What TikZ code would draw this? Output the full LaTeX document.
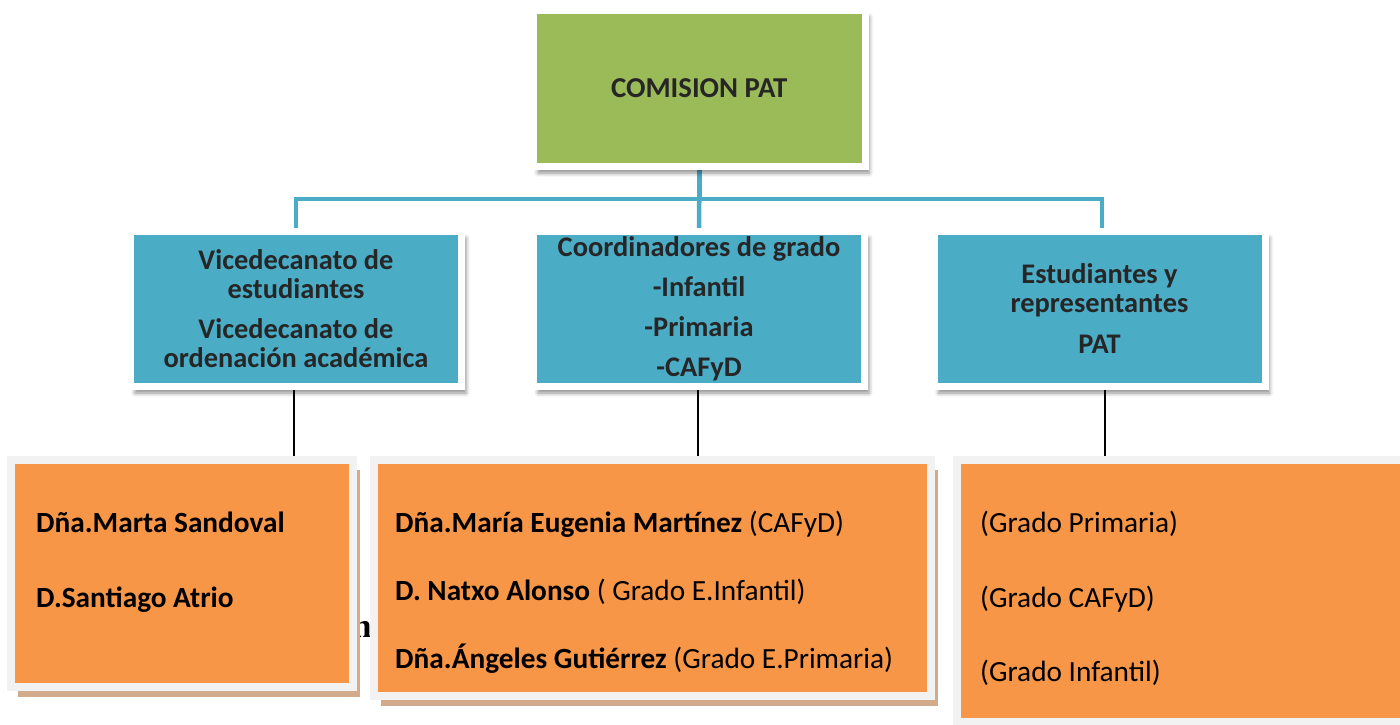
\documentclass[tikz,border=0pt]{standalone}
\usepackage{fontspec}
\setmainfont{Carlito}
\newfontfamily\timesfont{Liberation Serif}
\usetikzlibrary{shadows,shadows.blur,backgrounds}
\definecolor{pgreen}{RGB}{155,187,89}
\definecolor{pblue}{RGB}{75,172,198}
\definecolor{porange}{RGB}{247,150,70}
\definecolor{pframe}{RGB}{242,242,242}
\definecolor{ptan}{RGB}{210,170,140}
\definecolor{ptext}{RGB}{38,38,38}

\begin{document}
\begin{tikzpicture}
[x=1pt, y=-1pt,
 head/.style ={rectangle, draw=white, line width=7pt, fill=pgreen, minimum width=331.5pt, minimum height=156pt, inner sep=0pt, text=ptext, font=\fontsize{28.8}{34}\selectfont\bfseries, blur shadow={shadow xshift=4.5pt, shadow yshift=-6.5pt, shadow blur radius=4pt, shadow opacity=45}},
 unit/.style ={head, fill=pblue, minimum width=331pt, minimum height=155pt, align=center, font=\fontsize{28.4}{29}\selectfont\bfseries},
 panel/.style ={rectangle, draw=pframe, line width=8pt, fill=porange, inner sep=0pt, drop shadow={shadow xshift=7pt, shadow yshift=-10pt, fill=ptan, opacity=1}},
 entry/.style ={anchor=base west, inner sep=0pt, font=\fontsize{29.3}{34}\selectfont},
 link/.style ={draw=pblue, line width=4.5pt},
 line/.style ={draw, line width=1.5pt}]
\useasboundingbox (0, 0) rectangle (1400, 724);
\draw (699.25, 88.5) node[head] (comision) {COMISION PAT};
\draw (296, 309) node[unit] (vice) {Vicedecanato de\\estudiantes\\[11pt]Vicedecanato de\\ordenación académica};
\draw (699, 309) node[unit] (coord) {Coordinadores de grado\\[11pt]-Infantil\\[11pt]-Primaria\\[11pt]-CAFyD};
\draw (1099.5, 309) node[unit] (estud) {Estudiantes y\\representantes\\[12pt]PAT};
\draw (362, 637) node[anchor=base, inner sep=0pt, font=\timesfont\bfseries\fontsize{34}{34}\selectfont] (stray) {n};
\draw (182, 573.25) node[panel, minimum width=342pt, minimum height=226.5pt] (pvice) {};
\draw (652.25, 578) node[panel, minimum width=556.5pt, minimum height=236pt] (pcoord) {};
\draw (1186.5, 591) node[panel, minimum width=460pt, minimum height=262pt] (pestud) {};
\draw (36, 532) node[entry] (m1) {\textbf{Dña.Marta Sandoval}};
\draw (36, 607) node[entry] (m2) {\textbf{D.Santiago Atrio}};
\draw (395, 532) node[entry] (c1) {\textbf{Dña.María Eugenia Martínez} (CAFyD)};
\draw (395, 600) node[entry] (c2) {\textbf{D. Natxo Alonso} ( Grado E.Infantil)};
\draw (395, 668) node[entry] (c3) {\textbf{Dña.Ángeles Gutiérrez} (Grado E.Primaria)};
\draw (980, 532) node[entry] (e1) {(Grado Primaria)};
\draw (980, 607) node[entry] (e2) {(Grado CAFyD)};
\draw (980, 681) node[entry] (e3) {(Grado Infantil)};
\coordinate (hub) at (699.25, 199);
\begin{scope}[on background layer]
\draw[link] (comision) -- (hub);
\draw[link] (hub) -| (vice);
\draw[link] (hub) -- (coord);
\draw[link] (hub) -| ([xshift=2.5pt]estud.north);
\draw[line] ([xshift=-2pt]vice.south) -- ([xshift=-2pt]vice.south |- pvice.north);
\draw[line] ([xshift=-1pt]coord.south) -- ([xshift=-1pt]coord.south |- pcoord.north);
\draw[line] ([xshift=5.5pt]estud.south) -- ([xshift=5.5pt]estud.south |- pestud.north);
\end{scope}
\end{tikzpicture}
\end{document}
